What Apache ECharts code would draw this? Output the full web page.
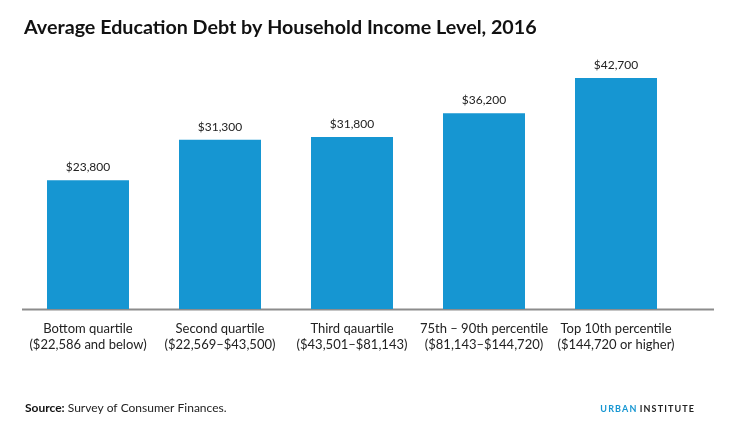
<!DOCTYPE html>
<html><head><meta charset="utf-8">
<script src="https://cdn.jsdelivr.net/npm/echarts@6/dist/echarts.min.js"></script>
<style>html,body{margin:0;padding:0;background:#fff}#c{width:730px;height:436px}</style>
</head><body><div id="c"></div>
<script>
const categories = [
  'Bottom quartile\n($22,586 and below)',
  'Second quartile\n($22,569\u2013$43,500)',
  'Third qauartile\n($43,501\u2013$81,143)',
  '75th \u2013 90th percentile\n($81,143\u2013$144,720)',
  'Top 10th percentile\n($144,720 or higher)'
];
const values = [23800, 31300, 31800, 36200, 42700];
const chart = echarts.init(document.getElementById('c'));
const F = 'Lato, "Open Sans", sans-serif';
chart.setOption({
  animation: false,
  backgroundColor: '#fff',
  title: {
    text: 'Average Education Debt by Household Income Level, 2016',
    left: 19, top: 13,
    textStyle: {fontFamily: F, fontSize: 19.7, fontWeight: 'bold', color: '#111'}
  },
  grid: {left: 22, right: 48, top: 38.5, bottom: 127, containLabel: false},
  xAxis: {
    type: 'category', data: categories,
    axisLine: {show: false},
    axisTick: {show: false},
    axisLabel: {fontFamily: F, fontSize: 13, color: '#222', lineHeight: 16, margin: 12, interval: 0}
  },
  yAxis: {type: 'value', min: 0, max: 50000, show: false, splitLine: {show: false}},
  series: [{
    type: 'bar', data: values, barWidth: 82,
    itemStyle: {color: '#1696d2'},
    label: {show: true, position: 'top', distance: 7, fontFamily: F, fontSize: 12, color: '#222',
      formatter: p => '$' + p.value.toLocaleString('en-US')}
  }],
  graphic: [
    {type: 'line', shape: {x1: 22, y1: 309.5, x2: 714, y2: 309.5}, style: {stroke: '#8c8c8c', lineWidth: 2}},
    {type: 'text', left: 25, top: 402, style: {
      text: '{b|Source:} Survey of Consumer Finances.',
      rich: {b: {fontFamily: F, fontSize: 12, fontWeight: 'bold', fill: '#111'}},
      fontFamily: F, fontSize: 12, fill: '#222'}},
    {type: 'text', right: 36, top: 403, style: {
      text: '{u|U\u2009R\u2009B\u2009A\u2009N} {i|I\u2009N\u2009S\u2009T\u2009I\u2009T\u2009U\u2009T\u2009E}',
      rich: {
        u: {fontFamily: F, fontSize: 9, fontWeight: 'bold', fill: '#1696d2'},
        i: {fontFamily: F, fontSize: 9, fontWeight: 'bold', fill: '#222'}
      }}}
  ]
});
</script></body></html>
